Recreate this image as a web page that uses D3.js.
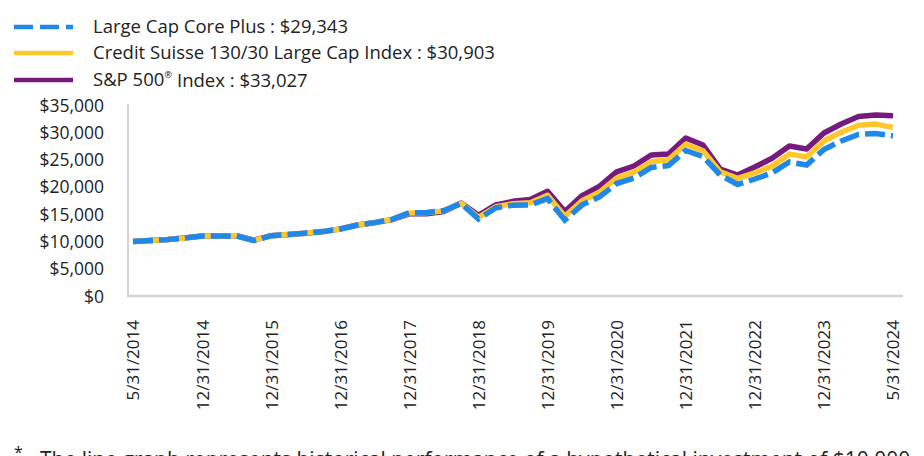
<!DOCTYPE html>
<html><head><meta charset="utf-8">
<script src="https://cdn.jsdelivr.net/npm/d3@7"></script>
<style>
html,body{margin:0;padding:0;background:#fff;}
svg{display:block;}
text{font-family:"Open Sans", Lato, sans-serif;fill:#222;}
</style></head>
<body><svg id="c" width="924" height="456"></svg>
<script>
const categories = [
 "5/31/2014","7/31/2014","9/30/2014","11/30/2014","12/31/2014",
 "3/31/2015","6/30/2015","9/30/2015","12/31/2015",
 "3/31/2016","6/30/2016","9/30/2016","12/31/2016",
 "3/31/2017","6/30/2017","9/30/2017","12/31/2017",
 "3/31/2018","6/30/2018","9/30/2018","12/31/2018",
 "3/31/2019","6/30/2019","9/30/2019","12/31/2019",
 "3/31/2020","6/30/2020","9/30/2020","12/31/2020",
 "3/31/2021","6/30/2021","9/30/2021","12/31/2021",
 "3/31/2022","6/30/2022","9/30/2022","12/31/2022",
 "3/31/2023","6/30/2023","9/30/2023","12/31/2023",
 "2/29/2024","3/31/2024","4/30/2024","5/31/2024"
];
const tickLabels = ["5/31/2014","12/31/2014","12/31/2015","12/31/2016","12/31/2017","12/31/2018",
 "12/31/2019","12/31/2020","12/31/2021","12/31/2022","12/31/2023","5/31/2024"];
const yTicks = [0,5000,10000,15000,20000,25000,30000,35000];

const largeCapCorePlus = [10000,10150,10330,10620,10980,11000,11000,10150,11050,11250,11520,11800,12280,13000,13450,14050,
 15250,15300,15650,16950,14100,16150,16650,16700,17850,13900,16700,18150,20600,21620,23550,23910,26660,25530,22170,20430,
 21440,22540,24560,24010,26850,28400,29600,29780,29343];
const creditSuisse = [10000,10160,10340,10630,10990,11020,11020,10180,11060,11260,11520,11800,12290,13000,13450,14040,
 15200,15250,15600,17000,14400,16350,16900,17100,18450,14600,17450,19000,21600,22700,24600,24950,27800,26600,22750,21550,
 22550,23800,26000,25500,28400,30000,31300,31500,30903];
const sp500 = [10000,10170,10350,10650,11000,11050,11050,10250,11050,11250,11500,11800,12300,13000,13450,14000,
 15050,15050,15500,17050,14800,16700,17350,17700,19200,15500,18400,20100,22750,23820,25840,26020,28950,27670,23270,22170,
 23640,25230,27490,26940,29870,31520,32890,33170,33027];

const seriesNames = ["Large Cap Core Plus : $29,343","Credit Suisse 130/30 Large Cap Index : $30,903","S&P 500"];
const colors = {blue:"#1f88e8", yellow:"#ffc72c", purple:"#761a7e"};

const svg = d3.select("#c");
const x = d3.scalePoint().domain(categories).range([133,893]);
const y = d3.scaleLinear().domain([0,35000]).range([296,105]);

// axes lines
svg.append("line").attr("x1",128).attr("x2",128).attr("y1",104).attr("y2",297)
  .attr("stroke","#d3d3d3").attr("stroke-width",2);
svg.append("line").attr("x1",127).attr("x2",903).attr("y1",296).attr("y2",296)
  .attr("stroke","#d3d3d3").attr("stroke-width",2.5);

// y axis labels
const yAxis = d3.axisLeft(y).tickValues(yTicks).tickSize(0).tickPadding(0)
  .tickFormat(d => "$" + d3.format(",")(d));
const gy = svg.append("g").attr("transform","translate(104,0)").call(yAxis);
gy.select(".domain").remove();
gy.selectAll("text").attr("font-size","17.5px").attr("font-family","'Open Sans', sans-serif").attr("fill","#222").attr("dy","0.35em");

// x axis labels
const xAxis = d3.axisBottom(x).tickValues(tickLabels).tickSize(0).tickPadding(0);
const gx = svg.append("g").attr("transform","translate(0,320)").call(xAxis);
gx.select(".domain").remove();
gx.selectAll("text").attr("font-size","17px").attr("font-family","'Open Sans', sans-serif").attr("fill","#222")
  .attr("text-anchor","end").attr("transform","rotate(-90)").attr("x",0).attr("y",0).attr("dy","0.35em");

const line = d3.line().x((d,i)=>x(categories[i])).y(d=>y(d));
svg.append("path").datum(sp500).attr("d",line).attr("fill","none")
  .attr("stroke",colors.purple).attr("stroke-width",5.5).attr("stroke-linejoin","round");
svg.append("path").datum(creditSuisse).attr("d",line).attr("fill","none")
  .attr("stroke",colors.yellow).attr("stroke-width",5.5).attr("stroke-linejoin","round");
svg.append("path").datum(largeCapCorePlus).attr("d",line).attr("fill","none")
  .attr("stroke",colors.blue).attr("stroke-width",5.5).attr("stroke-dasharray","20,6");

// legend
const leg = [
  {c:colors.blue, dash:"19,7", y:27},
  {c:colors.yellow, dash:null, y:53},
  {c:colors.purple, dash:null, y:80}
];
leg.forEach((l,i)=>{
  svg.append("line").attr("x1",14).attr("x2",73).attr("y1",l.y).attr("y2",l.y)
    .attr("stroke",l.c).attr("stroke-width",4.5).attr("stroke-dasharray",l.dash);
  const t = svg.append("text").attr("x",93).attr("y",l.y).attr("dy","0.35em").attr("font-size","18.5px");
  if(i<2){ t.text(seriesNames[i]); }
  else {
    t.append("tspan").text("S&P 500");
    t.append("tspan").text("®").attr("font-size","9.5px").attr("dy","-0.9em");
    t.append("tspan").text(" Index : $33,027").attr("dy","0.5em");
  }
});

// footnote
svg.append("text").attr("x",14).attr("y",458).attr("font-size","16px").text("*");
svg.append("text").attr("x",40).attr("y",467).attr("font-size","21px")
  .text("The line graph represents historical performance of a hypothetical investment of $10,000");
</script></body></html>
